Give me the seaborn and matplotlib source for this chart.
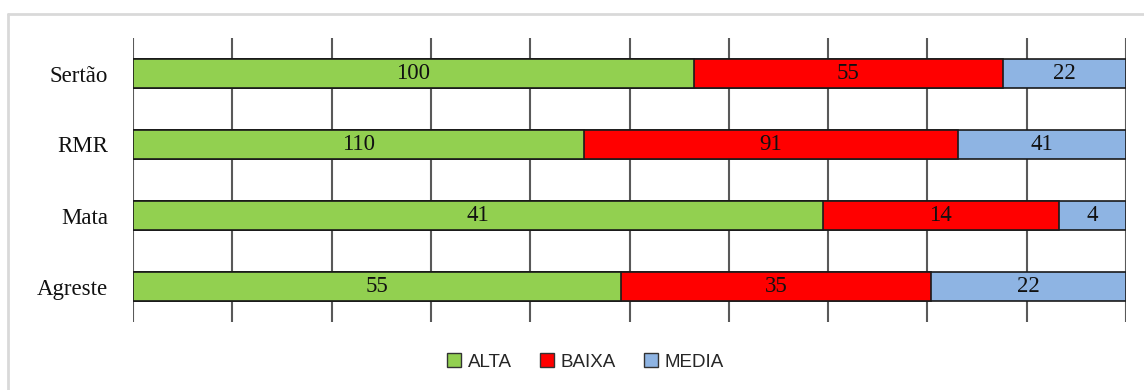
import numpy as np
import pandas as pd
import matplotlib
matplotlib.use("Agg")
import matplotlib.pyplot as plt
from matplotlib.patches import Patch
import seaborn as sns

regions = ["Sertão", "RMR", "Mata", "Agreste"]
alta = [100, 110, 41, 55]
baixa = [55, 91, 14, 35]
media = [22, 41, 4, 22]

series_names = ["ALTA", "BAIXA", "MEDIA"]
colors = ["#92d050", "#ff0000", "#8eb4e3"]

sns.set_theme(style="white")
plt.rcParams["font.family"] = ["Liberation Serif", "DejaVu Serif"]

counts = np.array([alta, baixa, media], dtype=float)
totals = counts.sum(axis=0)
shares = counts / totals * 100
cum = np.cumsum(shares, axis=0)

df = pd.DataFrame({
    "region": regions,
    "alta_end": cum[0],
    "baixa_end": cum[1],
    "media_end": cum[2],
})

fig = plt.figure(figsize=(11.44, 3.90), dpi=100)
ax = fig.add_axes([133 / 1144, 1 - 322 / 390, (1126 - 133) / 1144, (322 - 38) / 390])

# vertical gridlines every 10%
for x in np.arange(0, 101, 10):
    ax.axvline(x, color="#595959", lw=1.5, zorder=0)

# stacked bars: draw cumulative extents from the back to the front
for col, c in zip(["media_end", "baixa_end", "alta_end"], colors[::-1]):
    sns.barplot(data=df, y="region", x=col, orient="h", color=c, width=0.4,
                edgecolor="#1a1a1a", linewidth=1.2, saturation=1, ax=ax, zorder=2)

# value labels centred in each segment
starts = np.vstack([np.zeros(len(regions)), cum[:-1]])
for s in range(3):
    for i in range(len(regions)):
        xc = starts[s, i] + shares[s, i] / 2
        ax.text(xc, i, f"{int(counts[s, i])}", ha="center", va="center",
                fontsize=16.5, color="#111111", zorder=5)

ax.set_xlim(0, 100)
ax.set_ylim(3.5, -0.5)
ax.set_xlabel("")
ax.set_ylabel("")
ax.set_xticks([])
ax.tick_params(axis="y", length=0, pad=18, labelsize=16.5, labelcolor="#111111")
for sp in ax.spines.values():
    sp.set_visible(False)

handles = [Patch(facecolor=c, edgecolor="#333333", linewidth=1.0, label=n)
           for n, c in zip(series_names, colors)]
fig.legend(handles=handles, loc="center", bbox_to_anchor=(0.512, 0.072), ncol=3,
           frameon=False, handlelength=0.75, handleheight=0.75, handletextpad=0.35,
           columnspacing=1.5, prop={"family": "Liberation Sans", "size": 13.5})

# light outer frame
fig.add_artist(plt.Line2D([8 / 1144, 8 / 1144], [0, 1 - 14 / 390], transform=fig.transFigure,
                          color="#d9d9d9", lw=2))
fig.add_artist(plt.Line2D([8 / 1144, 1], [1 - 14 / 390, 1 - 14 / 390], transform=fig.transFigure,
                          color="#d9d9d9", lw=2))

fig.savefig("out.png", dpi=100, facecolor="white")
